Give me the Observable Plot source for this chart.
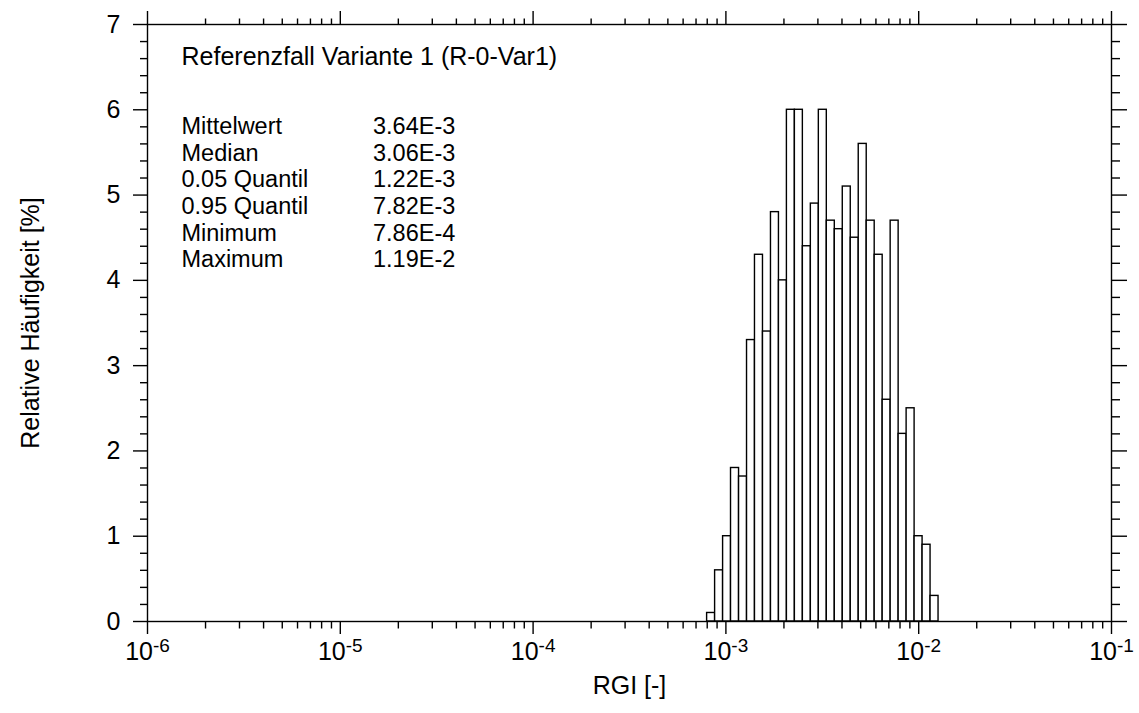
<!DOCTYPE html>
<html><head><meta charset="utf-8">
<script src="https://cdn.jsdelivr.net/npm/d3@7"></script>
<script src="https://cdn.jsdelivr.net/npm/@observablehq/plot@0.6"></script>
<style>
body{margin:0;background:#fff;}
#chart svg{font-family:"Liberation Sans", Arial, sans-serif;}
</style>
</head><body><div id="chart"></div>
<script>
// Histogram bin edges (RGI [-], logarithmic bins)
const binEdges = [7.99e-4, 8.79e-4, 9.67e-4, 1.063e-3, 1.170e-3, 1.287e-3, 1.415e-3, 1.557e-3, 1.713e-3, 1.884e-3,
  2.072e-3, 2.279e-3, 2.507e-3, 2.758e-3, 3.034e-3, 3.337e-3, 3.671e-3, 4.038e-3, 4.442e-3, 4.886e-3,
  5.375e-3, 5.912e-3, 6.503e-3, 7.154e-3, 7.869e-3, 8.656e-3, 9.522e-3, 1.0474e-2, 1.1521e-2, 1.2674e-2];
// Relative frequency per bin [%]
const frequencies = [0.1, 0.6, 1.0, 1.8, 1.7, 3.3, 4.3, 3.4, 4.8, 4.0,
  6.0, 6.0, 4.4, 4.9, 6.0, 4.7, 4.6, 5.1, 4.5, 5.6,
  4.7, 4.3, 2.6, 4.7, 2.2, 2.5, 1.0, 0.9, 0.3];
const statNames = ["Mittelwert", "Median", "0.05 Quantil", "0.95 Quantil", "Minimum", "Maximum"];
const statValues = ["3.64E-3", "3.06E-3", "1.22E-3", "7.82E-3", "7.86E-4", "1.19E-2"];
const chartTitle = "Referenzfall Variante 1 (R-0-Var1)";
const xLabel = "RGI [-]";
const yLabel = "Relative Häufigkeit [%]";
const xMajorTicks = [1e-6, 1e-5, 1e-4, 1e-3, 1e-2, 1e-1];
const xTickLabels = ["10^-6", "10^-5", "10^-4", "10^-3", "10^-2", "10^-1"];
const yMajorTicks = [0, 1, 2, 3, 4, 5, 6, 7];

const xMinorTicks = xMajorTicks.slice(0, -1).flatMap(d => d3.range(2, 10).map(k => k * d));
const yMinorTicks = d3.range(0, 35).map(i => i / 5).filter(v => Math.abs(v - Math.round(v)) > 1e-9);

const bins = frequencies.map((f, i) => ({x1: binEdges[i], x2: binEdges[i + 1], f}));

const lineW = 1.4;
const chart = Plot.plot({
  width: 1139,
  height: 713,
  marginLeft: 147,
  marginRight: 28,
  marginTop: 24,
  marginBottom: 92,
  style: {fontFamily: "'Liberation Sans', Arial, sans-serif", fontSize: "24px", color: "#000", background: "#fff"},
  x: {type: "log", domain: [1e-6, 1e-1]},
  y: {domain: [0, 7]},
  marks: [
    Plot.rectY(bins, {x1: "x1", x2: "x2", y: "f", fill: "white", stroke: "black", strokeWidth: lineW}),
    Plot.frame({stroke: "black", strokeWidth: lineW}),
    Plot.axisX({anchor: "bottom", ticks: xMajorTicks, tickSize: 13, tickPadding: 8, strokeWidth: lineW,
      tickFormat: d => xTickLabels[xMajorTicks.indexOf(d)], fontSize: 25,
      label: xLabel, labelAnchor: "center", labelOffset: 72, labelArrow: "none"}),
    Plot.axisX({anchor: "bottom", ticks: xMinorTicks, tickSize: 7.5, strokeWidth: lineW, tickFormat: () => "", label: null}),
    Plot.axisX({anchor: "top", ticks: xMajorTicks, tickSize: 14, strokeWidth: lineW, tickFormat: () => "", label: null}),
    Plot.axisX({anchor: "top", ticks: xMinorTicks, tickSize: 6.5, strokeWidth: lineW, tickFormat: () => "", label: null}),
    Plot.axisY({anchor: "left", ticks: yMajorTicks, tickSize: 14, tickPadding: 13, strokeWidth: lineW,
      tickFormat: d => String(d), fontSize: 25,
      label: yLabel, labelAnchor: "center", labelOffset: 126, labelArrow: "none"}),
    Plot.axisY({anchor: "left", ticks: yMinorTicks, tickSize: 7, strokeWidth: lineW, tickFormat: () => "", label: null}),
    Plot.axisY({anchor: "right", ticks: yMajorTicks, tickSize: 15, strokeWidth: lineW, tickFormat: () => "", label: null}),
    Plot.axisY({anchor: "right", ticks: yMinorTicks, tickSize: 8, strokeWidth: lineW, tickFormat: () => "", label: null}),
    Plot.text([chartTitle], {frameAnchor: "top-left", textAnchor: "start", lineAnchor: "top", dx: 34, dy: 23, fontSize: 25, fill: "black"}),
    Plot.text([statNames.join("\n")], {frameAnchor: "top-left", textAnchor: "start", lineAnchor: "top", dx: 34, dy: 91, lineHeight: 1.13, fontSize: 23.5, fill: "black"}),
    Plot.text([statValues.join("\n")], {frameAnchor: "top-left", textAnchor: "start", lineAnchor: "top", dx: 225.5, dy: 91, lineHeight: 1.13, fontSize: 23.5, fill: "black"})
  ]
});

// Render "10^-6" style labels with a raised superscript exponent
chart.querySelectorAll('g[aria-label="x-axis tick label"] text').forEach(t => {
  const s = t.textContent;
  const m = s.match(/^(\d+)\^(.+)$/);
  if (!m) return;
  t.textContent = m[1];
  const sup = document.createElementNS("http://www.w3.org/2000/svg", "tspan");
  sup.setAttribute("font-size", "19");
  sup.setAttribute("dy", "-8");
  sup.textContent = m[2];
  t.appendChild(sup);
});

document.getElementById("chart").appendChild(chart);
</script>
</body></html>
